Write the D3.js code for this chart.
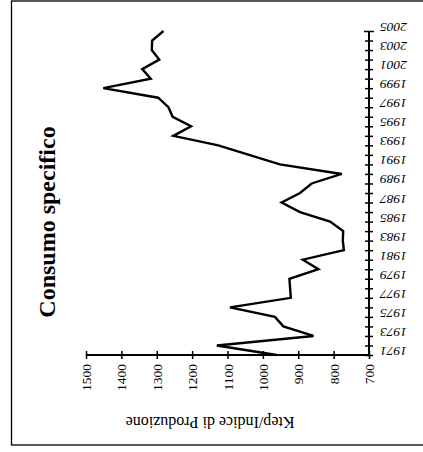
<!DOCTYPE html>
<html>
<head>
<meta charset="utf-8">
<script src="https://cdn.jsdelivr.net/npm/d3@7/dist/d3.min.js"></script>
<style>
body { margin: 0; background: #fff; }
svg { display: block; }
text { font-family: "Liberation Serif", "Times New Roman", serif; }
</style>
</head>
<body>
<svg id="chart" width="423" height="452"></svg>
<script>
const years = d3.range(1971, 2006);
const values = [961, 1130, 857, 942, 966, 1093, 921, 923, 925, 843,
                887, 771, 774, 773, 810, 895, 947, 895, 862, 777,
                952, 1039, 1126, 1253, 1203, 1255, 1267, 1296, 1451, 1317,
                1341, 1293, 1314, 1313, 1281];
const valueTicks = [700, 800, 900, 1000, 1100, 1200, 1300, 1400, 1500];
const title = "Consumo specifico";
const valueTitle = "Ktep/Indice di Produzione";

const data = years.map((y, i) => ({ year: y, value: values[i] }));
const svg = d3.select("#chart");

// frame
svg.append("rect")
  .attr("x", 11.5).attr("y", 1).attr("width", 440).attr("height", 444)
  .attr("fill", "none").attr("stroke", "#000").attr("stroke-width", 1.3);

const yScale = d3.scaleLinear().domain([1971, 2005]).range([355, 31]);
const xScale = d3.scaleLinear().domain([700, 1500]).range([369, 86]);

// year axis (vertical, right)
const yearAxis = svg.append("g")
  .attr("transform", "translate(369,0)")
  .call(d3.axisRight(yScale).tickValues(years).tickSize(4)
        .tickFormat(d => (d % 2 === 1 ? String(d) : "")));
yearAxis.select(".domain").attr("d", `M0,${yScale(1971)}V${yScale(2005)}`)
  .attr("stroke", "#000").attr("stroke-width", 2);
yearAxis.selectAll(".tick line").attr("x1", -4).attr("x2", 4)
  .attr("stroke", "#000").attr("stroke-width", 1.5);
yearAxis.select(".tick:last-of-type line").attr("x1", -5).attr("x2", 5);
yearAxis.selectAll(".tick text")
  .attr("x", null).attr("dy", null)
  .attr("transform", "translate(38,-4) rotate(180)")
  .attr("text-anchor", "start")
  .attr("dominant-baseline", "central")
  .attr("font-style", "italic")
  .attr("font-size", 13.5)
  .attr("font-family", "Liberation Serif")
  .attr("fill", "#000");

// value axis (horizontal, bottom)
const valAxis = svg.append("g")
  .attr("transform", "translate(0,355)")
  .call(d3.axisBottom(xScale).tickValues(valueTicks).tickSize(4)
        .tickFormat(d3.format("d")));
valAxis.select(".domain").attr("d", `M${xScale(1500)},0H${xScale(700)}`)
  .attr("stroke", "#000").attr("stroke-width", 2);
valAxis.selectAll(".tick line").attr("y1", -4).attr("y2", 4)
  .attr("stroke", "#000").attr("stroke-width", 1.5);
valAxis.selectAll(".tick text")
  .attr("y", null).attr("dy", null)
  .attr("transform", "translate(0,9) rotate(-90)")
  .attr("text-anchor", "end")
  .attr("dominant-baseline", "central")
  .attr("font-size", 13.5)
  .attr("font-family", "Liberation Serif")
  .attr("fill", "#000");

// line
const line = d3.line().x(d => xScale(d.value)).y(d => yScale(d.year));
svg.append("path").datum(data)
  .attr("d", line)
  .attr("fill", "none").attr("stroke", "#000")
  .attr("stroke-width", 2.4).attr("stroke-linejoin", "miter");

// value axis title (upside down)
svg.append("text")
  .attr("transform", "translate(210,422) rotate(180)")
  .attr("text-anchor", "middle")
  .attr("dominant-baseline", "central")
  .attr("font-size", 16)
  .text(valueTitle);

// chart title (rotated)
svg.append("text")
  .attr("transform", "translate(47,222) rotate(-90)")
  .attr("text-anchor", "middle")
  .attr("dominant-baseline", "central")
  .attr("font-size", 24)
  .attr("font-weight", "bold")
  .text(title);
</script>
</body>
</html>
